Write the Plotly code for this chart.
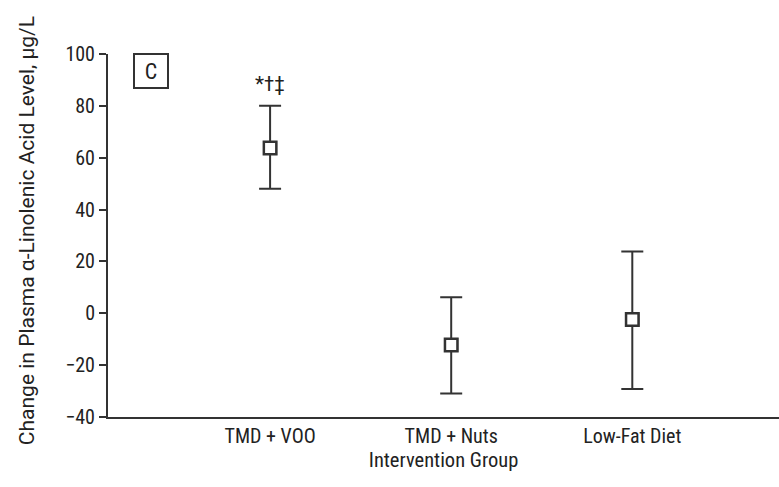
import plotly.graph_objects as go

groups = ["TMD + VOO", "TMD + Nuts", "Low-Fat Diet"]
means = [63.7, -12.2, -2.4]
upper = [80.0, 6.2, 23.8]
lower = [48.0, -30.9, -29.2]
yticks = [-40, -20, 0, 20, 40, 60, 80, 100]

err_plus = [u - m for u, m in zip(upper, means)]
err_minus = [m - l for m, l in zip(means, lower)]
xpos = list(range(len(groups)))

FONT = "Roboto Condensed, Roboto, Liberation Sans, sans-serif"
TITLE_FONT = "Roboto, Liberation Sans, sans-serif"
INK = "#333333"

fig = go.Figure()
fig.add_trace(go.Scatter(
    x=xpos, y=means, mode="markers",
    marker=dict(symbol="square-open", size=13, color=INK, line=dict(width=2, color=INK)),
    error_y=dict(type="data", symmetric=False, array=err_plus, arrayminus=err_minus,
                 color=INK, thickness=2, width=11),
    showlegend=False, hoverinfo="skip",
))
fig.add_trace(go.Scatter(
    x=xpos, y=means, mode="markers",
    marker=dict(symbol="square", size=12, color="white", line=dict(width=2, color=INK)),
    showlegend=False, hoverinfo="skip",
))

fig.update_layout(
    width=779, height=487,
    margin=dict(l=108, r=0, t=54, b=70),
    paper_bgcolor="white", plot_bgcolor="white",
    font=dict(family=FONT, size=19, color="#222222"),
    xaxis=dict(
        range=[-0.895, 2.81], tickvals=xpos, ticktext=groups,
        showline=True, linecolor=INK, linewidth=2, ticks="", showgrid=False, zeroline=False,
        tickfont=dict(size=20),
        title=dict(text="Intervention Group", font=dict(size=20.5), standoff=5),
    ),
    yaxis=dict(
        range=[-40, 100], tickvals=yticks,
        showline=True, linecolor=INK, linewidth=2, ticks="outside", ticklen=7,
        tickcolor=INK, tickwidth=1.5, showgrid=False, zeroline=False,
        tickfont=dict(size=20),
    ),
    annotations=[
        dict(text="Change in Plasma α-Linolenic Acid Level, μg/L", textangle=-90,
             xref="paper", yref="paper", x=-0.1207, y=0.512, xanchor="center", yanchor="middle",
             showarrow=False, font=dict(size=21, family=TITLE_FONT)),
        dict(text="C", xref="paper", yref="y", x=0.037, y=93.3, showarrow=False,
             font=dict(size=22), bordercolor=INK, borderwidth=2, borderpad=5,
             width=22, height=22, xanchor="left", yanchor="middle"),
        dict(text="*†‡", xref="x", yref="y", x=0, y=88.5, showarrow=False,
             font=dict(size=21), xanchor="center", yanchor="middle"),
    ],
)

fig.write_html("out.html", config={"displayModeBar": False},
               post_script="document.body.style.margin='0';document.body.style.overflow='hidden';")
